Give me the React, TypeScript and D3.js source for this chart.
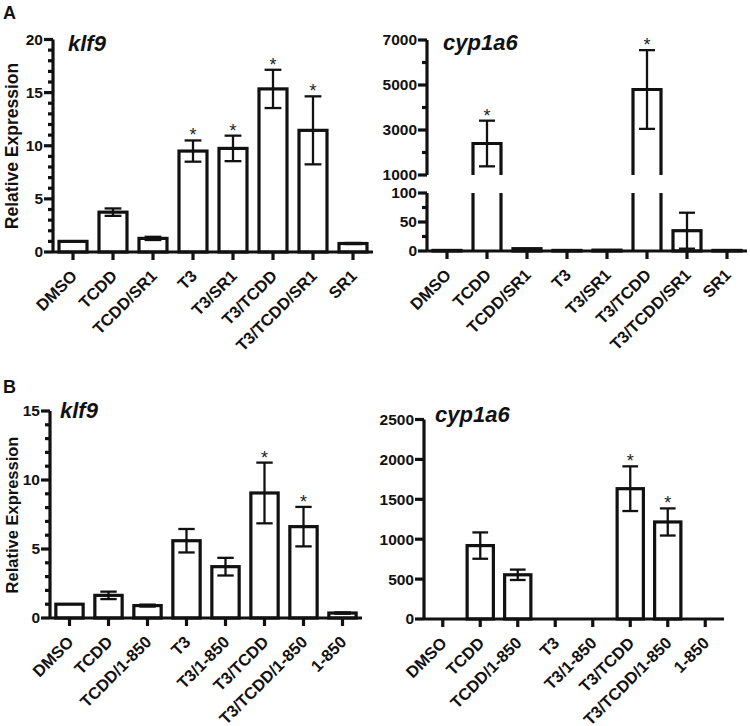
import React from "react";
import * as d3 from "d3";

// ---------- DATA ----------
const catsA = ["DMSO", "TCDD", "TCDD/SR1", "T3", "T3/SR1", "T3/TCDD", "T3/TCDD/SR1", "SR1"];
const klf9A = [1.0, 3.75, 1.28, 9.5, 9.75, 15.35, 11.45, 0.8];
const klf9AErr = [0, 0.35, 0.15, 1.0, 1.2, 1.8, 3.2, 0.05];
const klf9ASig = [false, false, false, true, true, true, true, false];

const cypA = [1, 2400, 4, 1, 1.5, 4800, 35, 1];
const cypAErr = [0.3, 1015, 1, 0.2, 0.3, 1750, 31, 0.2];
const cypASig = [false, true, false, false, false, true, false, false];

const catsB = ["DMSO", "TCDD", "TCDD/1-850", "T3", "T3/1-850", "T3/TCDD", "T3/TCDD/1-850", "1-850"];
const klf9B = [1.0, 1.64, 0.9, 5.6, 3.72, 9.06, 6.62, 0.36];
const klf9BErr = [0, 0.27, 0.07, 0.85, 0.64, 2.2, 1.43, 0.05];
const klf9BSig = [false, false, false, false, false, true, true, false];

const cypB = [0, 920, 554, 0, 0, 1633, 1216, 0];
const cypBErr = [0, 165, 65, 0, 0, 280, 170, 0];
const cypBSig = [false, false, false, false, false, true, true, false];

const klf9ATicks = [0, 5, 10, 15, 20];
const klf9BTicks = [0, 5, 10, 15];
const cypALowTicks = [0, 50, 100];
const cypAHighTicks = [1000, 3000, 5000, 7000];
const cypBTicks = [0, 500, 1000, 1500, 2000, 2500];

const FONT = "'Liberation Sans', Arial, Helvetica, sans-serif";
const AX_W = 3.2;
const BAR_W = 3.2;
const ERR_W = 2.3;
const TICK_FS = 15.5;
const XLAB_FS = 16.5;

function XAxis({ xs, cats, y0, x0, x1 }: any) {
  return (
    <g>
      <line x1={x0} x2={x1} y1={y0} y2={y0} stroke="#111" strokeWidth={AX_W} />
      {cats.map((c: string) => {
        const cx = xs(c)! + xs.bandwidth() / 2;
        return (
          <g key={c}>
            <line x1={cx} x2={cx} y1={y0} y2={y0 + 8} stroke="#111" strokeWidth={AX_W} />
            <text
              transform={`translate(${cx + 1},${y0 + 21}) rotate(-45)`}
              textAnchor="end"
              dy="0.35em"
              fontFamily={FONT}
              fontWeight="bold"
              fontSize={XLAB_FS}
              fill="#111"
            >
              {c}
            </text>
          </g>
        );
      })}
    </g>
  );
}

function YTicks({ ys, x0, majors, minors, fmt }: any) {
  return (
    <g>
      {minors.map((t: number) => (
        <line key={"m" + t} x1={x0 - 5} x2={x0} y1={ys(t)} y2={ys(t)} stroke="#111" strokeWidth={AX_W} />
      ))}
      {majors.map((t: number) => (
        <g key={"M" + t}>
          <line x1={x0 - 9} x2={x0} y1={ys(t)} y2={ys(t)} stroke="#111" strokeWidth={AX_W} />
          <text
            x={x0 - 10}
            y={ys(t)}
            dy="0.35em"
            textAnchor="end"
            fontFamily={FONT}
            fontWeight="bold"
            fontSize={TICK_FS}
            fill="#111"
          >
            {fmt ? fmt(t) : t}
          </text>
        </g>
      ))}
    </g>
  );
}

function ErrStar({ cx, yLo, yHi, capW, sig }: any) {
  return (
    <g>
      <line x1={cx} x2={cx} y1={yLo} y2={yHi} stroke="#111" strokeWidth={ERR_W} />
      <line x1={cx - capW / 2} x2={cx + capW / 2} y1={yHi} y2={yHi} stroke="#111" strokeWidth={ERR_W} />
      <line x1={cx - capW / 2} x2={cx + capW / 2} y1={yLo} y2={yLo} stroke="#111" strokeWidth={ERR_W} />
      {sig && (
        <text x={cx} y={yHi + 1} textAnchor="middle" fontFamily={FONT} fontSize={18} fill="#222">
          *
        </text>
      )}
    </g>
  );
}

function Panel({ cats, vals, errs, sig, xRange, yRange, yMax, majors, minors, title, titleX, titleY }: any) {
  const xs = d3.scaleBand<string>().domain(cats).range(xRange).paddingInner(0).paddingOuter(0);
  const ys = d3.scaleLinear().domain([0, yMax]).range(yRange);
  const bw = xs.bandwidth() * 0.7;
  const capW = xs.bandwidth() * 0.42;
  const y0 = ys(0);
  return (
    <g>
      {cats.map((c: string, i: number) => {
        const v = vals[i];
        if (v <= 0) return null;
        const cx = xs(c)! + xs.bandwidth() / 2;
        return (
          <rect
            key={c}
            x={cx - bw / 2}
            y={ys(v)}
            width={bw}
            height={y0 - ys(v)}
            fill="#fff"
            stroke="#111"
            strokeWidth={BAR_W}
          />
        );
      })}
      {cats.map((c: string, i: number) => {
        const v = vals[i];
        const e = errs[i];
        if (e <= 0) return null;
        const cx = xs(c)! + xs.bandwidth() / 2;
        return <ErrStar key={c} cx={cx} yLo={ys(v - e)} yHi={ys(v + e)} capW={capW} sig={sig[i]} />;
      })}
      <line x1={xRange[0]} x2={xRange[0]} y1={y0} y2={ys(yMax)} stroke="#111" strokeWidth={AX_W} />
      <YTicks ys={ys} x0={xRange[0]} majors={majors} minors={minors} />
      <XAxis xs={xs} cats={cats} y0={y0} x0={xRange[0]} x1={xRange[1]} />
      <text x={titleX} y={titleY} fontFamily={FONT} fontWeight="bold" fontStyle="italic" fontSize={22} fill="#111">
        {title}
      </text>
    </g>
  );
}

function BrokenPanel({ cats, vals, errs, sig, xRange, title, titleX, titleY }: any) {
  const xs = d3.scaleBand<string>().domain(cats).range(xRange);
  const yLow = d3.scaleLinear().domain([0, 100]).range([251, 193]);
  const yHigh = d3.scaleLinear().domain([1000, 7000]).range([175, 40]);
  const yv = (v: number) => (v <= 100 ? yLow(Math.max(v, 0)) : yHigh(v));
  const bw = xs.bandwidth() * 0.7;
  const capW = xs.bandwidth() * 0.4;
  const y0 = yLow(0);
  const x0 = xRange[0];
  return (
    <g>
      {cats.map((c: string, i: number) => {
        const v = vals[i];
        const cx = xs(c)! + xs.bandwidth() / 2;
        const l = cx - bw / 2;
        const r = cx + bw / 2;
        if (v <= 100) {
          return (
            <rect key={c} x={l} y={yLow(v)} width={bw} height={y0 - yLow(v)} fill="#fff" stroke="#111" strokeWidth={BAR_W} />
          );
        }
        return (
          <g key={c}>
            <line x1={l} x2={l} y1={y0} y2={yLow(100)} stroke="#111" strokeWidth={BAR_W} />
            <line x1={r} x2={r} y1={y0} y2={yLow(100)} stroke="#111" strokeWidth={BAR_W} />
            <path
              d={`M${l},${yHigh(1000)}V${yHigh(v)}H${r}V${yHigh(1000)}`}
              fill="#fff"
              stroke="#111"
              strokeWidth={BAR_W}
            />
          </g>
        );
      })}
      {cats.map((c: string, i: number) => {
        const v = vals[i];
        const e = errs[i];
        if (v < 10) return null;
        const cx = xs(c)! + xs.bandwidth() / 2;
        return <ErrStar key={c} cx={cx} yLo={yv(v - e)} yHi={yv(v + e)} capW={capW} sig={sig[i]} />;
      })}
      <line x1={x0} x2={x0} y1={y0} y2={yLow(100)} stroke="#111" strokeWidth={AX_W} />
      <line x1={x0} x2={x0} y1={yHigh(1000)} y2={yHigh(7000)} stroke="#111" strokeWidth={AX_W} />
      <YTicks ys={yLow} x0={x0} majors={cypALowTicks} minors={[25, 75]} />
      <YTicks ys={yHigh} x0={x0} majors={cypAHighTicks} minors={[2000, 4000, 6000]} />
      <XAxis xs={xs} cats={cats} y0={y0} x0={x0} x1={xRange[1]} />
      <text x={titleX} y={titleY} fontFamily={FONT} fontWeight="bold" fontStyle="italic" fontSize={22} fill="#111">
        {title}
      </text>
    </g>
  );
}

export default function App() {
  const range = (a: number, b: number, s: number) => d3.range(a, b + 1e-9, s);
  const klf9AMinors = range(0, 20, 1).filter((t) => t % 5 !== 0);
  const klf9BMinors = range(0, 15, 1).filter((t) => t % 5 !== 0);
  return (
    <svg
      width={750}
      height={726}
      style={{ position: "absolute", left: 0, top: 0, background: "#fff" }}
      viewBox="0 0 750 726"
    >
      <rect width={750} height={726} fill="#fff" />
      <text x={3} y={19} fontFamily={FONT} fontWeight="bold" fontSize={18} fill="#111">A</text>
      <text x={3} y={393} fontFamily={FONT} fontWeight="bold" fontSize={18} fill="#111">B</text>
      <text
        transform="translate(18,146) rotate(-90)"
        textAnchor="middle"
        fontFamily={FONT}
        fontWeight="bold"
        fontSize={17.5}
        fill="#111"
      >
        Relative Expression
      </text>
      <text
        transform="translate(18,515) rotate(-90)"
        textAnchor="middle"
        fontFamily={FONT}
        fontWeight="bold"
        fontSize={16.5}
        fill="#111"
      >
        Relative Expression
      </text>
      <Panel
        cats={catsA}
        vals={klf9A}
        errs={klf9AErr}
        sig={klf9ASig}
        xRange={[53, 373]}
        yRange={[252, 39.5]}
        yMax={20}
        majors={klf9ATicks}
        minors={klf9AMinors}
        title="klf9"
        titleX={68}
        titleY={51}
      />
      <BrokenPanel
        cats={catsA}
        vals={cypA}
        errs={cypAErr}
        sig={cypASig}
        xRange={[427, 747]}
        title="cyp1a6"
        titleX={443}
        titleY={50}
      />
      <Panel
        cats={catsB}
        vals={klf9B}
        errs={klf9BErr}
        sig={klf9BSig}
        xRange={[50, 362]}
        yRange={[618, 411]}
        yMax={15}
        majors={klf9BTicks}
        minors={klf9BMinors}
        title="klf9"
        titleX={60}
        titleY={418}
      />
      <Panel
        cats={catsB}
        vals={cypB}
        errs={cypBErr}
        sig={cypBSig}
        xRange={[424, 724]}
        yRange={[619, 419.5]}
        yMax={2500}
        majors={cypBTicks}
        minors={[]}
        title="cyp1a6"
        titleX={435}
        titleY={422}
      />
    </svg>
  );
}
